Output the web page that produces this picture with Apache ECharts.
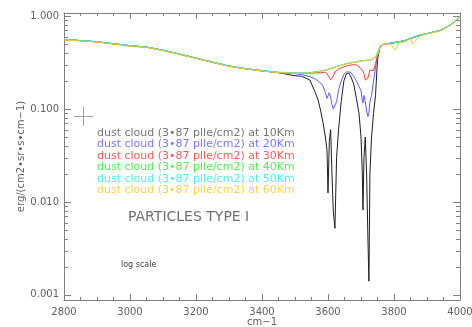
<!DOCTYPE html>
<html>
<head>
<meta charset="utf-8">
<script src="https://cdn.jsdelivr.net/npm/echarts@6/dist/echarts.min.js"></script>
<style>
html,body{margin:0;padding:0;background:#fff;}
#chart{width:472px;height:327px;}
</style>
</head>
<body>
<div id="chart"></div>
<script>
// ---- data ----
const wavenumbers = [2800,2850,2900,2950,3000,3050,3100,3150,3200,3250,3300,3350,3400,3450,3500,3520,3545,3560,3570,3578,3585,3592,3597,3600,3604,3608,3612,3616,3621,3626,3632,3640,3648,3656,3663,3670,3678,3686,3694,3700,3704,3706,3709,3713,3717,3721,3724,3727,3732,3738,3744,3750,3758,3770,3790,3804,3815,3830,3850,3856,3880,3910,3940,3970,3990,4000];

const km10 = [0.558,0.544,0.528,0.503,0.479,0.463,0.428,0.389,0.352,0.318,0.289,0.271,0.257,0.246,0.228,0.225,0.205,0.155,0.125,0.095,0.071,0.05,0.036,0.0125,0.045,0.06,0.02,0.008,0.0052,0.03,0.06,0.12,0.2,0.24,0.244,0.22,0.185,0.13,0.09,0.05,0.02,0.0082,0.03,0.05,0.02,0.004,0.0014,0.02,0.05,0.09,0.14,0.34,0.47,0.5,0.51,0.52,0.53,0.54,0.575,0.585,0.625,0.66,0.7,0.8,0.9,1.0];
const km20 = [0.559,0.545,0.529,0.504,0.48,0.464,0.429,0.39,0.352,0.319,0.29,0.271,0.258,0.247,0.24,0.235,0.223,0.212,0.2,0.19,0.175,0.15,0.13,0.125,0.15,0.135,0.112,0.1,0.098,0.12,0.16,0.2,0.235,0.25,0.252,0.245,0.225,0.2,0.175,0.158,0.122,0.116,0.14,0.12,0.095,0.083,0.09,0.12,0.14,0.2,0.28,0.37,0.47,0.5,0.51,0.52,0.53,0.54,0.575,0.585,0.625,0.66,0.7,0.8,0.9,1.0];
const km30 = [0.559,0.545,0.529,0.504,0.48,0.464,0.429,0.39,0.353,0.319,0.29,0.272,0.258,0.247,0.243,0.242,0.242,0.245,0.247,0.245,0.248,0.25,0.242,0.232,0.218,0.206,0.205,0.225,0.25,0.262,0.27,0.278,0.284,0.29,0.294,0.298,0.3,0.298,0.285,0.272,0.262,0.255,0.24,0.205,0.198,0.215,0.24,0.262,0.27,0.26,0.31,0.38,0.47,0.5,0.51,0.52,0.53,0.54,0.575,0.585,0.625,0.66,0.7,0.8,0.9,1.0];
const km40 = [0.56,0.545,0.53,0.505,0.48,0.465,0.43,0.39,0.353,0.32,0.29,0.272,0.259,0.248,0.244,0.243,0.246,0.25,0.253,0.256,0.259,0.262,0.265,0.267,0.27,0.272,0.275,0.278,0.282,0.286,0.29,0.296,0.302,0.307,0.31,0.314,0.318,0.322,0.326,0.328,0.33,0.331,0.332,0.333,0.334,0.335,0.336,0.337,0.34,0.35,0.362,0.38,0.47,0.5,0.51,0.52,0.53,0.54,0.575,0.585,0.625,0.66,0.7,0.8,0.9,1.0];
const km50 = [0.562,0.547,0.531,0.506,0.482,0.466,0.431,0.391,0.355,0.321,0.291,0.273,0.26,0.249,0.245,0.244,0.247,0.251,0.254,0.257,0.26,0.263,0.266,0.268,0.271,0.273,0.276,0.279,0.283,0.287,0.291,0.297,0.303,0.308,0.311,0.315,0.319,0.323,0.327,0.329,0.331,0.332,0.333,0.334,0.335,0.336,0.337,0.338,0.341,0.351,0.364,0.385,0.472,0.502,0.512,0.522,0.532,0.542,0.577,0.587,0.627,0.662,0.702,0.802,0.902,1.0];
const km60 = [0.552,0.54,0.525,0.5,0.47,0.46,0.425,0.385,0.35,0.316,0.287,0.27,0.256,0.246,0.242,0.242,0.245,0.249,0.252,0.255,0.258,0.261,0.264,0.266,0.269,0.271,0.274,0.277,0.281,0.285,0.289,0.295,0.301,0.306,0.309,0.313,0.317,0.321,0.325,0.327,0.329,0.33,0.331,0.332,0.333,0.334,0.335,0.336,0.339,0.349,0.36,0.38,0.465,0.495,0.5,0.43,0.52,0.525,0.57,0.5,0.615,0.655,0.69,0.79,0.89,0.99];

const seriesNames = ['10Km','20Km','30Km','40Km','50Km','60Km'];
const legendLabels = [
  'dust cloud (3•87 plle/cm2) at 10Km',
  'dust cloud (3•87 plle/cm2) at 20Km',
  'dust cloud (3•87 plle/cm2) at 30Km',
  'dust cloud (3•87 plle/cm2) at 40Km',
  'dust cloud (3•87 plle/cm2) at 50Km',
  'dust cloud (3•87 plle/cm2) at 60Km'
];
const xTicks = [2800,3000,3200,3400,3600,3800,4000];
const yMinorTicks = [0.002,0.003,0.004,0.005,0.006,0.007,0.008,0.009,
                     0.02,0.03,0.04,0.05,0.06,0.07,0.08,0.09,
                     0.2,0.3,0.4,0.5,0.6,0.7,0.8,0.9];

// ---- styles ----
const lineColors = ['#1e1e1e','#5a5aff','#ff3a3a','#3ae83a','#3ae8e8','#f2c82a'];
const textColors = ['#757575','#7878ff','#ff5a5a','#52ee52','#52eeee','#ffd050'];
const FONT = '"DejaVu Sans", sans-serif';
const AXIS_COLOR = '#808080';

const allValues = [km10, km20, km30, km40, km50, km60];

const chart = echarts.init(document.getElementById('chart'), null, {renderer: 'canvas'});

const lineSeries = allValues.map((vals, i) => ({
  name: seriesNames[i],
  type: 'line',
  data: wavenumbers.map((w, j) => [w, vals[j]]),
  showSymbol: false,
  symbol: 'none',
  lineStyle: {color: lineColors[i], width: 1},
  itemStyle: {color: lineColors[i]},
  animation: false,
  z: 2 + i
}));

const minorTickSeries = {
  type: 'custom',
  data: yMinorTicks.map(v => [xTicks[0], v]),
  encode: {x: 0, y: 1},
  silent: true,
  animation: false,
  z: 10,
  renderItem: function (params, api) {
    const y = Math.round(api.coord([api.value(0), api.value(1)])[1]) + 0.5;
    const x0 = params.coordSys.x;
    const x1 = params.coordSys.x + params.coordSys.width;
    return {
      type: 'group',
      children: [
        {type: 'line', shape: {x1: x0, y1: y, x2: x0 + 4, y2: y}, style: {stroke: AXIS_COLOR, lineWidth: 1}},
        {type: 'line', shape: {x1: x1 - 4, y1: y, x2: x1, y2: y}, style: {stroke: AXIS_COLOR, lineWidth: 1}}
      ]
    };
  }
};

function decadeLabel(v) {
  const l = Math.log10(v);
  return Math.abs(l - Math.round(l)) < 0.01 ? v.toFixed(3) : '';
}

const yBase = {
  type: 'log',
  logBase: 10,
  min: 0.00088,
  max: 1.08,
  splitNumber: 3,
  splitLine: {show: false},
  axisLine: {show: true, lineStyle: {color: AXIS_COLOR, width: 1}},
  axisTick: {show: true, inside: true, length: 7, lineStyle: {color: AXIS_COLOR}},
  minorTick: {show: false}
};

const xBase = {
  type: 'value',
  min: xTicks[0],
  max: xTicks[xTicks.length - 1],
  interval: 200,
  splitLine: {show: false},
  axisLine: {show: true, onZero: false, lineStyle: {color: AXIS_COLOR, width: 1}},
  axisTick: {show: true, inside: true, length: 6, lineStyle: {color: AXIS_COLOR}},
  minorTick: {show: true, splitNumber: 4, length: 3, lineStyle: {color: AXIS_COLOR}},
  minorSplitLine: {show: false}
};

const graphics = [];
legendLabels.forEach((t, i) => {
  graphics.push({
    type: 'text',
    x: 97,
    y: 133 + i * 11.45,
    silent: true,
    style: {
      text: t,
      fill: textColors[i],
      font: '11px ' + FONT,
      textAlign: 'left',
      textVerticalAlign: 'middle',
      align: 'left',
      verticalAlign: 'middle'
    }
  });
});
// crosshair marker
graphics.push({type: 'line', silent: true, shape: {x1: 74, y1: 116.5, x2: 93, y2: 116.5}, style: {stroke: '#a0a0a0', lineWidth: 1}});
graphics.push({type: 'line', silent: true, shape: {x1: 83.5, y1: 107, x2: 83.5, y2: 126}, style: {stroke: '#a0a0a0', lineWidth: 1}});
graphics.push({
  type: 'text', x: 128, y: 217, silent: true,
  style: {text: 'PARTICLES TYPE I', fill: '#707070', font: '14px ' + FONT,
          textAlign: 'left', textVerticalAlign: 'middle', align: 'left', verticalAlign: 'middle'}
});
graphics.push({
  type: 'text', x: 121, y: 265, silent: true,
  style: {text: 'log scale', fill: '#404040', font: '8px ' + FONT,
          textAlign: 'left', textVerticalAlign: 'middle', align: 'left', verticalAlign: 'middle'}
});

const option = {
  backgroundColor: '#ffffff',
  animation: false,
  grid: {left: 64, right: 12, top: 13, bottom: 27, containLabel: false, outerBoundsMode: 'none'},
  xAxis: [
    Object.assign({}, xBase, {
      position: 'bottom',
      name: 'cm−1',
      nameLocation: 'middle',
      nameGap: 17,
      nameMoveOverlap: false,
      nameTextStyle: {color: '#606060', fontSize: 10, fontFamily: FONT},
      axisLabel: {show: true, color: '#606060', fontSize: 10, fontFamily: FONT, margin: 7,
                  formatter: v => String(v)}
    }),
    Object.assign({}, xBase, {
      position: 'top',
      axisLabel: {show: false}
    })
  ],
  yAxis: [
    Object.assign({}, yBase, {
      position: 'left',
      name: 'erg/(cm2•sr•s•cm−1)',
      nameLocation: 'middle',
      nameGap: 38,
      nameMoveOverlap: false,
      nameTextStyle: {color: '#606060', fontSize: 10, fontFamily: FONT},
      axisLabel: {show: true, color: '#606060', fontSize: 10, fontFamily: FONT, margin: 5,
                  formatter: decadeLabel}
    }),
    Object.assign({}, yBase, {
      position: 'right',
      axisLabel: {show: false}
    })
  ],
  series: lineSeries.concat([minorTickSeries]),
  graphic: graphics
};

chart.setOption(option);
</script>
</body>
</html>
